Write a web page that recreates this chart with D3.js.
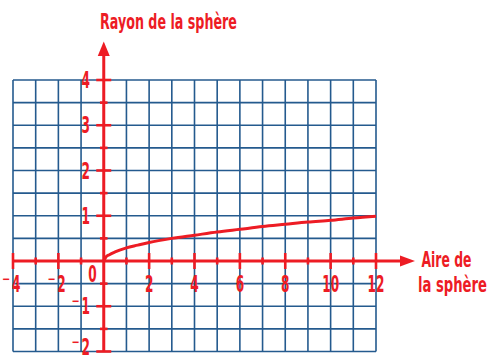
<!DOCTYPE html>
<html><head><meta charset="utf-8">
<script src="https://cdn.jsdelivr.net/npm/d3@7"></script>
<style>
html,body{margin:0;padding:0;background:#fff;}
text{font-family:"DejaVu Sans Condensed","DejaVu Sans",sans-serif;font-stretch:condensed;fill:#ed1c24;font-weight:bold;}
</style></head><body>
<svg id="c" width="491" height="360"></svg>
<script>
// Data
const areaValues = [0, 0.1, 0.25, 0.5, 1, 1.5, 2, 3, 4, 5, 6, 7, 8, 9, 10, 11, 12];
const radiusValues = [0, 0.09, 0.14, 0.2, 0.29, 0.35, 0.41, 0.5, 0.57, 0.64, 0.7, 0.76, 0.81, 0.86, 0.9, 0.95, 0.99];
const xTickLabels = [-4, -2, 2, 4, 6, 8, 10, 12];
const yTickLabels = [-2, -1, 1, 2, 3, 4];
const xTitle = ["Aire de", "la sphère"];
const yTitle = "Rayon de la sphère";

const RED = "#ed1c24", BLUE = "#245a8e";
const svg = d3.select("#c");
const x = d3.scaleLinear().domain([-4, 12]).range([13, 376]);
const y = d3.scaleLinear().domain([-2, 4]).range([351.5, 80]);

// grid
const g = svg.append("g");
g.selectAll("line.v").data(d3.range(-4, 13, 1)).join("line")
  .attr("x1", d => x(d)).attr("x2", d => x(d)).attr("y1", y(4)).attr("y2", y(-2))
  .attr("stroke", BLUE).attr("stroke-width", 1.6);
g.selectAll("line.h").data(d3.range(-2, 4.01, 0.5)).join("line")
  .attr("y1", d => y(d)).attr("y2", d => y(d)).attr("x1", x(-4)).attr("x2", x(12))
  .attr("stroke", BLUE).attr("stroke-width", 1.6);

// axes
const ax = svg.append("g").attr("stroke", RED);
ax.append("line").attr("x1", x(-4)).attr("x2", 402).attr("y1", y(0)).attr("y2", y(0)).attr("stroke-width", 3);
ax.append("line").attr("x1", x(0)).attr("x2", x(0)).attr("y1", y(-2)).attr("y2", 54).attr("stroke-width", 3);
svg.append("path").attr("fill", RED)
  .attr("d", `M415,${y(0)} L400,${y(0)-5.5} L400,${y(0)+5.5} Z`);
svg.append("path").attr("fill", RED)
  .attr("d", `M${x(0)},41.5 L${x(0)-6},56 L${x(0)+6},56 Z`);

// x ticks
ax.selectAll("line.xt").data(d3.range(-4, 13, 1).filter(d => d !== 0)).join("line")
  .attr("x1", d => x(d)).attr("x2", d => x(d))
  .attr("y1", d => y(0) - (d % 2 === 0 ? 8 : 3.5))
  .attr("y2", d => y(0) + (d % 2 === 0 ? 8 : 3.5))
  .attr("stroke-width", 2.6);
// y ticks
ax.selectAll("line.yt").data(d3.range(-2, 4.01, 0.5).filter(d => d !== 0)).join("line")
  .attr("y1", d => y(d)).attr("y2", d => y(d))
  .attr("x1", d => x(0) - (Number.isInteger(d) ? 7.5 : 3.8))
  .attr("x2", d => x(0) + (Number.isInteger(d) ? 7.5 : 3.8))
  .attr("stroke-width", 2.6);

// curve
const line = d3.line().x((d, i) => x(areaValues[i])).y(d => y(d)).curve(d3.curveMonotoneX);
svg.append("path").datum(radiusValues).attr("d", line)
  .attr("fill", "none").attr("stroke", RED).attr("stroke-width", 3);

// text helpers
const SX = 0.6, FS = 22.5;
function num(px, py, v, anchor) {
  const t = svg.append("text")
    .attr("transform", `translate(${px},${py}) scale(${SX},1)`)
    .attr("font-size", FS).attr("text-anchor", anchor || "start");
  if (v < 0) {
    t.append("tspan").attr("font-size", 18).attr("font-weight", "normal").attr("dy", -7).text("\u2212");
    t.append("tspan").attr("dy", 7).attr("dx", 3).text(Math.abs(v));
  } else t.text(v);
  return t;
}
function title(px, py, s, w) {
  const t = svg.append("text").attr("font-size", 22).text(s);
  const nat = t.node().getComputedTextLength();
  t.attr("transform", `translate(${px},${py}) scale(${w / nat},1)`);
  return t;
}
// x tick labels
xTickLabels.forEach(v => {
  if (v < 0) num(x(v) - 11, 291.5, v, "start");
  else num(x(v), 291.5, v, "middle");
});
num(92.5, 281.5, 0, "middle");
// y tick labels
yTickLabels.forEach(v => num(90, v === -2 ? 354.5 : y(v) + 8, v, "end"));
// titles
title(100, 29, yTitle, 137);
title(421.5, 267, xTitle[0], 50);
title(418, 291.5, xTitle[1], 69);
</script></body></html>
